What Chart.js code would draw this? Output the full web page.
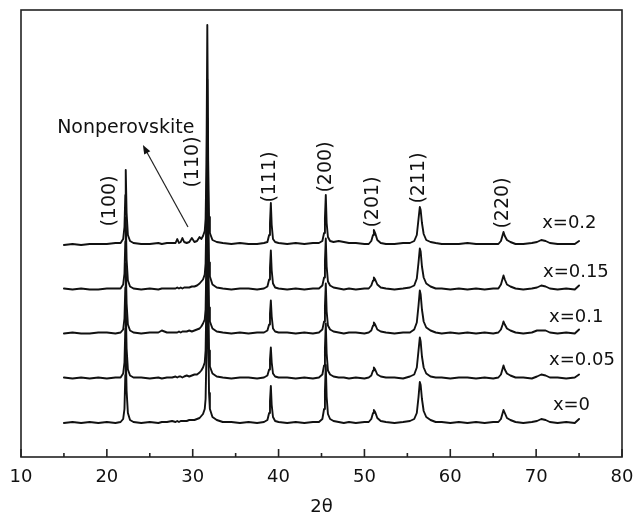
<!DOCTYPE html>
<html>
<head>
<meta charset="utf-8">
<script src="https://cdn.jsdelivr.net/npm/chart.js@4"></script>
<style>
  html, body { margin: 0; padding: 0; background: #fff; }
  #wrap { width: 636px; height: 514px; }
</style>
</head>
<body>
<div id="wrap"><canvas id="xrd-chart"></canvas></div>
<script>
// 2theta positions shared by all patterns
var twoTheta = [15, 16, 17, 18, 19, 20, 21, 21.6, 21.9, 22.05, 22.15, 22.2, 22.3, 22.45, 22.7, 23.1,
    24, 25, 26, 26.4, 27, 27.6,
    28.0, 28.2, 28.4, 28.6, 28.8, 29.0, 29.3, 29.6, 29.9, 30.2, 30.5, 30.8, 31.0, 31.2, 31.4,
    31.5, 31.6, 31.7, 31.8, 31.9, 32.0, 32.3, 32.8,
    33.5, 34.5, 35.5, 36.5, 37.5, 38.3,
    38.7, 38.9, 39.0, 39.1, 39.2, 39.35, 39.6, 40.0,
    41, 42, 43, 44, 44.7,
    45.1, 45.3, 45.4, 45.5, 45.6, 45.75, 46.0, 46.4,
    47, 47.6, 48.2, 49, 50, 50.5,
    50.8, 51.0, 51.1, 51.25, 51.5, 51.9,
    52.5, 53.5, 54.5, 55.3,
    55.8, 56.1, 56.3, 56.45, 56.55, 56.7, 56.9, 57.2, 57.7, 58.3,
    59, 60, 61, 62, 63, 64, 65, 65.6,
    65.9, 66.1, 66.2, 66.35, 66.6, 67.0, 67.6,
    68.5, 69.5, 70.1, 70.6, 71.1, 71.6, 72.5, 73.5, 74.5, 75];

// intensities (a.u.), one list per sample
var x0 = [0, 1, 0, 1, 0, 1, 0, 1, 4, 14, 48, 72, 32, 10, 3, 1,
    0, 1, 0, 1, 1, 2,
    1, 2, 1, 2, 2, 2, 2, 3, 3, 3, 4, 5, 7, 9, 14,
    24, 70, 250, 90, 30, 14, 6, 3,
    1, 1, 0, 1, 0, 1,
    3, 10, 22, 37, 18, 6, 2, 1,
    0, 1, 0, 1, 1,
    4, 14, 32, 58, 26, 9, 4, 2,
    1, 0, 1, 0, 1, 1,
    4, 10, 13, 11, 5, 2,
    1, 0, 1, 2,
    4, 10, 26, 41, 38, 24, 12, 6, 3, 1,
    1, 0, 1, 0, 1, 0, 1, 1,
    4, 10, 13, 10, 5, 3, 1,
    0, 1, 2, 4, 3, 1, 0, 1, 0, 4];

var x005 = [1, 0, 1, 0, 1, 0, 1, 1, 5, 16, 50, 72, 30, 9, 3, 1,
    1, 0, 1, 0, 1, 1,
    2, 1, 2, 2, 1, 2, 3, 2, 3, 4, 4, 6, 8, 11, 16,
    28, 80, 230, 85, 28, 12, 5, 2,
    1, 0, 1, 1, 0, 1,
    3, 9, 19, 31, 16, 5, 2, 1,
    1, 0, 1, 0, 1,
    4, 13, 30, 55, 25, 8, 4, 2,
    1, 1, 0, 1, 0, 1,
    3, 8, 11, 9, 4, 2,
    1, 1, 0, 2,
    4, 11, 28, 41, 37, 22, 11, 5, 2, 1,
    1, 0, 1, 1, 0, 1, 0, 1,
    4, 10, 13, 9, 5, 3, 1,
    1, 0, 2, 4, 3, 1, 1, 0, 1, 4];

var x01 = [0, 1, 0, 0, 1, 1, 0, 1, 4, 15, 46, 70, 30, 9, 3, 1,
    0, 1, 1, 3, 1, 1,
    1, 1, 2, 1, 2, 2, 2, 3, 2, 3, 4, 5, 7, 10, 14,
    24, 75, 215, 80, 26, 12, 5, 2,
    1, 0, 1, 0, 1, 1,
    3, 9, 20, 33, 17, 5, 2, 1,
    1, 0, 1, 0, 1,
    4, 12, 27, 50, 22, 8, 4, 2,
    1, 0, 1, 1, 0, 1,
    3, 8, 11, 9, 4, 2,
    1, 0, 1, 1,
    4, 11, 28, 43, 39, 24, 12, 6, 3, 1,
    0, 1, 0, 1, 0, 1, 0, 1,
    4, 9, 12, 9, 5, 3, 1,
    0, 1, 3, 3, 3, 1, 0, 1, 0, 4];

var x015 = [1, 0, 1, 0, 0, 1, 1, 1, 5, 16, 48, 72, 30, 9, 3, 1,
    0, 1, 0, 1, 1, 1,
    1, 2, 1, 2, 1, 2, 2, 2, 3, 3, 4, 6, 8, 10, 15,
    26, 78, 210, 82, 27, 13, 5, 2,
    1, 0, 1, 1, 0, 1,
    3, 10, 22, 39, 19, 6, 2, 1,
    0, 1, 0, 1, 1,
    4, 12, 28, 51, 23, 8, 4, 2,
    1, 0, 1, 0, 1, 1,
    4, 9, 12, 10, 5, 2,
    1, 0, 1, 2,
    4, 11, 27, 41, 38, 23, 12, 6, 3, 1,
    1, 0, 1, 0, 1, 0, 1, 1,
    5, 11, 14, 10, 5, 3, 1,
    0, 1, 2, 4, 3, 1, 0, 1, 0, 4];

var x02 = [0, 1, 0, 1, 1, 1, 2, 2, 6, 18, 50, 75, 32, 10, 4, 2,
    1, 1, 2, 1, 2, 2,
    2, 6, 2, 3, 7, 3, 2, 3, 7, 3, 4, 8, 6, 9, 14,
    26, 80, 220, 85, 28, 12, 5, 3,
    2, 1, 2, 1, 1, 2,
    3, 10, 22, 42, 20, 6, 3, 2,
    1, 2, 1, 2, 2,
    4, 12, 27, 50, 22, 8, 4, 3,
    4, 3, 2, 2, 1, 1,
    4, 10, 15, 12, 5, 2,
    1, 1, 2, 2,
    4, 10, 26, 38, 35, 22, 11, 5, 3, 2,
    1, 1, 1, 2, 1, 1, 1, 1,
    4, 10, 13, 9, 5, 3, 1,
    1, 2, 3, 5, 4, 2, 1, 1, 1, 4];

var samples = ['x=0', 'x=0.05', 'x=0.1', 'x=0.15', 'x=0.2'];
var patterns = [x0, x005, x01, x015, x02];
var offsets = [34, 78.5, 123.5, 167.5, 212];   // vertical stacking of the patterns
var peakNames = ['(100)', '(110)', '(111)', '(200)', '(201)', '(211)', '(220)'];

var FONT = '"DejaVu Sans", sans-serif';

var datasets = patterns.map(function (vals, i) {
    return {
        label: samples[i],
        data: vals.map(function (v, k) { return { x: twoTheta[k], y: v + offsets[i] }; }),
        borderColor: '#111',
        borderWidth: 1.9,
        borderJoinStyle: 'round',
        borderCapStyle: 'round',
        pointRadius: 0,
        tension: 0,
        fill: false
    };
});

var decorations = {
    id: 'decorations',
    afterDatasetsDraw: function (chart) {
        var ctx = chart.ctx;
        var a = chart.chartArea;
        var xs = chart.scales.x;
        var ys = chart.scales.y;
        ctx.save();

        // tick marks pointing inwards
        ctx.strokeStyle = '#222';
        ctx.lineWidth = 1.6;
        xs.ticks.forEach(function (t) {
            var px = xs.getPixelForValue(t.value);
            var len = t.value % 10 === 0 ? 8 : 4;
            ctx.beginPath();
            ctx.moveTo(px, a.bottom);
            ctx.lineTo(px, a.bottom - len);
            ctx.stroke();
        });
        ctx.strokeRect(a.left, a.top, a.right - a.left, a.bottom - a.top);

        ctx.fillStyle = '#111';
        ctx.textBaseline = 'middle';

        // peak indices, rotated
        var peakPos = [[20.4, 256], [30.0, 295], [39.0, 280], [45.5, 290], [51.0, 255], [56.4, 279], [66.1, 254]];
        ctx.font = '19px ' + FONT;
        ctx.textAlign = 'center';
        peakNames.forEach(function (name, i) {
            ctx.save();
            ctx.translate(xs.getPixelForValue(peakPos[i][0]), ys.getPixelForValue(peakPos[i][1]));
            ctx.rotate(-Math.PI / 2);
            ctx.fillText(name, 0, 0);
            ctx.restore();
        });

        // sample names
        var samplePos = [[71.95, 52], [71.5, 97], [71.5, 140], [70.8, 185], [70.7, 234]];
        ctx.font = '18px ' + FONT;
        ctx.textAlign = 'left';
        samples.forEach(function (s, i) {
            ctx.fillText(s, xs.getPixelForValue(samplePos[i][0]), ys.getPixelForValue(samplePos[i][1]));
        });

        // Nonperovskite note with arrow
        ctx.font = '19px ' + FONT;
        ctx.textAlign = 'center';
        ctx.fillText('Nonperovskite', xs.getPixelForValue(22.2), ys.getPixelForValue(329));
        var x1 = xs.getPixelForValue(29.45), y1 = ys.getPixelForValue(230);
        var x2 = xs.getPixelForValue(24.2), y2 = ys.getPixelForValue(312);
        var ang = Math.atan2(y2 - y1, x2 - x1);
        ctx.lineWidth = 1.2;
        ctx.beginPath();
        ctx.moveTo(x1, y1);
        ctx.lineTo(x2 - 6 * Math.cos(ang), y2 - 6 * Math.sin(ang));
        ctx.stroke();
        ctx.beginPath();
        ctx.moveTo(x2, y2);
        ctx.lineTo(x2 - 9 * Math.cos(ang) + 3.5 * Math.sin(ang), y2 - 9 * Math.sin(ang) - 3.5 * Math.cos(ang));
        ctx.lineTo(x2 - 9 * Math.cos(ang) - 3.5 * Math.sin(ang), y2 - 9 * Math.sin(ang) + 3.5 * Math.cos(ang));
        ctx.closePath();
        ctx.fill();

        ctx.restore();
    }
};

var ctx = document.getElementById('xrd-chart').getContext('2d');
var chart = new Chart(ctx, {
    type: 'line',
    data: { datasets: datasets },
    options: {
        responsive: true,
        maintainAspectRatio: false,
        animation: false,
        layout: { padding: { left: 21, right: 14, top: 10, bottom: 0 } },
        plugins: {
            legend: { display: false },
            tooltip: { enabled: false }
        },
        scales: {
            x: {
                type: 'linear',
                min: 10,
                max: 80,
                grid: { display: false, drawTicks: false },
                border: { display: false },
                ticks: {
                    stepSize: 5,
                    autoSkip: false,
                    maxRotation: 0,
                    padding: 10,
                    color: '#111',
                    font: { family: FONT, size: 18 },
                    callback: function (v) { return v % 10 === 0 ? v : ''; }
                },
                title: {
                    display: true,
                    text: '2θ',
                    color: '#111',
                    font: { family: FONT, size: 18, lineHeight: 0.75 },
                    padding: { top: 4, bottom: 0 }
                },
                afterFit: function (scale) {
                    scale.height = 57;
                    scale.paddingLeft = 0;
                    scale.paddingRight = 0;
                }
            },
            y: {
                display: false,
                min: 0,
                max: 447
            }
        }
    },
    plugins: [decorations]
});
</script>
</body>
</html>
